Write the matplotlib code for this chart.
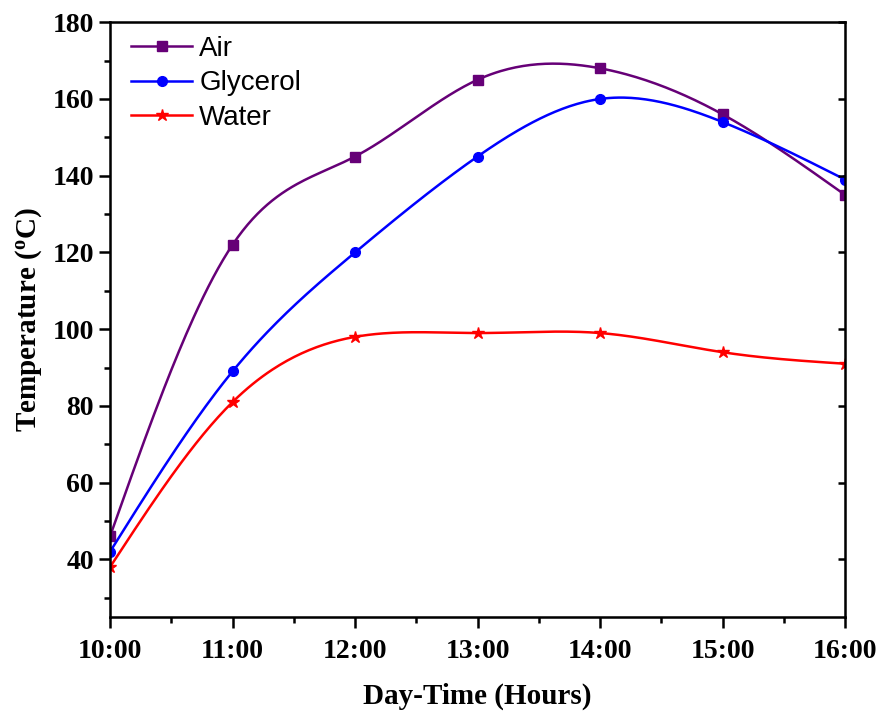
import numpy as np
import matplotlib
matplotlib.use("Agg")
import matplotlib.pyplot as plt
from matplotlib.ticker import MultipleLocator

# data
hours = [10, 11, 12, 13, 14, 15, 16]
hour_labels = ["10:00", "11:00", "12:00", "13:00", "14:00", "15:00", "16:00"]
air = [46, 122, 145, 165, 168, 156, 135]
glycerol = [42, 89, 120, 145, 160, 154, 139]
water = [38, 81, 98, 99, 99, 94, 91]


def natural_spline(x, y, n=300):
    # natural cubic spline, like the smooth connect in the original plot
    x = np.asarray(x, float)
    y = np.asarray(y, float)
    k = len(x)
    h = np.diff(x)
    A = np.zeros((k, k))
    b = np.zeros(k)
    A[0, 0] = 1
    A[-1, -1] = 1
    for i in range(1, k - 1):
        A[i, i - 1] = h[i - 1]
        A[i, i] = 2 * (h[i - 1] + h[i])
        A[i, i + 1] = h[i]
        b[i] = 6 * ((y[i + 1] - y[i]) / h[i] - (y[i] - y[i - 1]) / h[i - 1])
    m = np.linalg.solve(A, b)
    xs = np.linspace(x[0], x[-1], n)
    idx = np.clip(np.searchsorted(x, xs) - 1, 0, k - 2)
    x0, x1 = x[idx], x[idx + 1]
    hh = x1 - x0
    t0 = x1 - xs
    t1 = xs - x0
    ys = (m[idx] * t0 ** 3 / (6 * hh) + m[idx + 1] * t1 ** 3 / (6 * hh)
          + (y[idx] / hh - m[idx] * hh / 6) * t0
          + (y[idx + 1] / hh - m[idx + 1] * hh / 6) * t1)
    return xs, ys


plt.rcParams['mathtext.fontset'] = 'custom'
plt.rcParams['mathtext.rm'] = 'Liberation Serif:bold'
plt.rcParams['mathtext.it'] = 'Liberation Serif:bold'
plt.rcParams['mathtext.bf'] = 'Liberation Serif:bold'

fig = plt.figure(figsize=(8.83, 7.17), dpi=100)
ax = fig.add_axes([0.1246, 0.1395, 0.8324, 0.8295])

series = [
    ("Air", air, "#660077", "s", 7),
    ("Glycerol", glycerol, "#0000ff", "o", 7),
    ("Water", water, "#ff0000", "*", 9),
]
for name, vals, col, mk, ms in series:
    xs, ys = natural_spline(hours, vals)
    ax.plot(xs, ys, color=col, lw=1.8)
    ax.plot(hours, vals, linestyle='none', marker=mk, color=col, markersize=ms)
    # legend proxy
    ax.plot([], [], color=col, lw=1.8, marker=mk, markersize=ms, label=name)

ax.set_xlim(10, 16)
ax.set_ylim(25, 180)
ax.set_xticks(hours)
ax.set_xticklabels(hour_labels)
ax.xaxis.set_minor_locator(MultipleLocator(0.5))
ax.set_yticks(np.arange(40, 181, 20))
ax.yaxis.set_minor_locator(MultipleLocator(10))

for sp in ax.spines.values():
    sp.set_linewidth(1.8)

ax.tick_params(which='major', direction='out', length=8, width=1.8,
               labelsize=20, top=False, right=False)
ax.tick_params(axis='x', which='major', pad=8)
ax.tick_params(which='minor', direction='out', length=4, width=1.8,
               top=False, right=False)
for lab in ax.get_xticklabels() + ax.get_yticklabels():
    lab.set_fontfamily('Liberation Serif')
    lab.set_fontweight('bold')

# inward ticks on the right spine
ax2 = ax.twinx()
ax2.set_ylim(ax.get_ylim())
ax2.set_yticks(np.arange(40, 181, 20))
ax2.tick_params(axis='y', direction='in', length=5, width=1.8, labelright=False)

ax.set_xlabel("Day-Time (Hours)", fontsize=21, fontweight='bold',
              fontfamily='Liberation Serif', labelpad=13)
ax.set_ylabel(r"Temperature ($^{\rm o}$C)", fontsize=21, fontweight='bold',
              fontfamily='Liberation Serif', labelpad=6)

leg = ax.legend(loc='upper left', frameon=False,
                prop={'family': 'Liberation Sans', 'size': 20},
                handlelength=2.2, handletextpad=0.25, labelspacing=0.3,
                borderaxespad=0.1, bbox_to_anchor=(0.01, 1.0))

fig.savefig("out.png", dpi=100)
